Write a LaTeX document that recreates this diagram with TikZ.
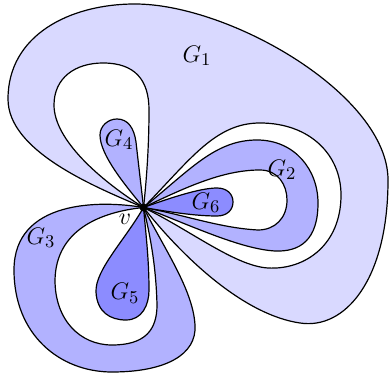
\documentclass[tikz,border=0pt]{standalone}
\begin{document}
\begin{tikzpicture}[x=0.5pt,y=-0.5pt,
  bnd/.style={draw=black,line width=0.6pt},
  light/.style={bnd,fill=blue!15},
  mid/.style={bnd,fill=blue!30},
  dark/.style={bnd,fill=blue!45},
  hole/.style={bnd,fill=white},
  lbl/.style={inner sep=0pt,font=\fontsize{12.5}{15}\selectfont}]
\useasboundingbox (0,0) rectangle (389,378);
\coordinate (v) at (143.5,207.5);
% G1 outer
\path[light] (v) .. controls (90,185) and (8,150) .. (8,99)
  .. controls (8,35) and (70,4) .. (135,4)
  .. controls (230,4) and (388,95) .. (388,180)
  .. controls (388,280) and (345,330) .. (300,323)
  .. controls (245,315) and (185,260) .. (v) -- cycle;
% upper-left hole
\path[hole] (v) .. controls (100,180) and (54,140) .. (54,105)
  .. controls (54,78) and (75,63) .. (103,63)
  .. controls (135,63) and (149,80) .. (149,110)
  .. controls (149,150) and (146,185) .. (v) -- cycle;
% G4
\path[mid] (v) .. controls (125,185) and (100,155) .. (100,135)
  .. controls (100,126) and (108,119) .. (117,119)
  .. controls (128,119) and (134,128) .. (136,142)
  .. controls (138,160) and (141,185) .. (v) -- cycle;
% right hole
\path[hole] (v) .. controls (190,160) and (215,123) .. (260,123)
  .. controls (310,123) and (341,155) .. (341,195)
  .. controls (341,245) and (305,270) .. (268,268)
  .. controls (235,266) and (190,230) .. (v) -- cycle;
% G2
\path[mid] (v) .. controls (190,170) and (215,140) .. (257,140)
  .. controls (295,140) and (318,170) .. (318,203)
  .. controls (318,240) and (300,252) .. (275,251)
  .. controls (240,249) and (190,225) .. (v) -- cycle;
\path[hole] (v) .. controls (190,185) and (225,170) .. (260,170)
  .. controls (278,170) and (287,185) .. (287,200)
  .. controls (287,218) and (275,230) .. (258,230)
  .. controls (220,228) and (185,215) .. (v) -- cycle;
% G6
\path[dark] (v) .. controls (170,198) and (200,188) .. (217,188)
  .. controls (227,188) and (233,194) .. (233,202)
  .. controls (233,210) and (227,216) .. (217,216)
  .. controls (195,216) and (170,212) .. (v) -- cycle;
% G3
\path[mid] (v) .. controls (100,200) and (14,200) .. (14,270)
  .. controls (14,335) and (60,372) .. (112,372)
  .. controls (165,372) and (197,355) .. (195,325)
  .. controls (193,290) and (165,250) .. (v) -- cycle;
\path[hole] (v) .. controls (100,212) and (56,230) .. (55,280)
  .. controls (55,320) and (80,345) .. (112,345)
  .. controls (145,345) and (157,330) .. (157,305)
  .. controls (156,265) and (150,235) .. (v) -- cycle;
% G5
\path[dark] (v) .. controls (125,240) and (95,270) .. (96,292)
  .. controls (97,312) and (110,320) .. (126,320)
  .. controls (142,320) and (149,305) .. (149,290)
  .. controls (149,260) and (146,235) .. (v) -- cycle;
\fill[black] (v) circle (2pt);
\node[lbl] (g1) at (197,56) {$G_1$};
\node[lbl] (g2) at (282,170) {$G_2$};
\node[lbl] (g3) at (41,238) {$G_3$};
\node[lbl] (g4) at (119,140) {$G_4$};
\node[lbl] (g5) at (125,293) {$G_5$};
\node[lbl] (g6) at (206,203) {$G_6$};
\node[lbl] (vl) at (125,219) {$v$};
\end{tikzpicture}
\end{document}
